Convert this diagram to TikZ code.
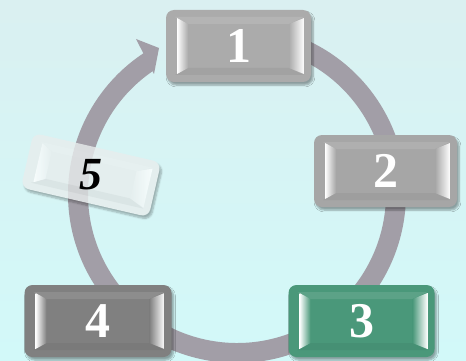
\documentclass[tikz,border=0pt]{standalone}
\usepackage{fontspec}
\setmainfont{Liberation Serif}
\usetikzlibrary{shadows.blur}

\definecolor{bgtop}{HTML}{DAF0F1}
\definecolor{bgbottom}{HTML}{D2F9F9}
\definecolor{ringgray}{HTML}{A29EA7}
\definecolor{capgray}{HTML}{ABABAB}
\definecolor{capgrayb}{HTML}{A6A6A6}
\definecolor{capdark}{HTML}{808080}
\definecolor{capgreen}{HTML}{4A987A}
\definecolor{capwhite}{HTML}{E8EDED}

\tikzset{
  capbase/.style={rounded corners=8pt,
    blur shadow={shadow xshift=2pt, shadow yshift=-3pt, shadow blur steps=6, shadow opacity=35}},
  capnum/.style={text=white, font=\fontsize{50}{50}\selectfont\bfseries, inner sep=0pt},
  capnumdark/.style={text=black, font=\fontsize{46}{46}\selectfont\bfseries\itshape, inner sep=0pt},
  ringband/.style={draw=ringgray, line width=20pt},
}

% #1 nombre, #2 centro, #3 opciones, #4 medio ancho, #5 medio alto, #6 color, #7 estilo, #8 texto
\newcommand{\keycap}[8]{%
  \begin{scope}[shift={#2}, #3]
    \path[capbase, fill=#6] (-#4,-#5) rectangle (#4,#5);
    % bisel superior e inferior
    \fill[#6!90!white] ({-#4+9},{-#5+7}) -- ({#4-7},{-#5+7}) -- ({#4-22},{-#5+14}) -- ({-#4+22},{-#5+14}) -- cycle;
    \fill[#6!95!black] ({-#4+9},{#5-7}) -- ({#4-7},{#5-7}) -- ({#4-22},{#5-14}) -- ({-#4+22},{#5-14}) -- cycle;
    % bisel izquierdo y derecho
    \shade[left color=white, right color=#6] ({-#4+11},{-#5+8}) -- ({-#4+22},{-#5+14}) -- ({-#4+22},{#5-14}) -- ({-#4+11},{#5-8}) -- cycle;
    \shade[left color=#6, right color=white] ({#4-22},{-#5+14}) -- ({#4-7},{-#5+8}) -- ({#4-7},{#5-8}) -- ({#4-22},{#5-14}) -- cycle;
  \end{scope}
  \node[#7] (#1) at #2 {#8};}

\begin{document}
\begin{tikzpicture}[x=1pt, y=-1pt]
  % fondo
  \useasboundingbox (0,0) rectangle (466,361);
  \shade[top color=bgtop, bottom color=bgbottom] (0,0) rectangle (466,361);

  % anillo con flecha
  \draw[ringband] (237,194) ++(-123.5:159) arc (-123.5:-440:159);
  \fill[ringgray] (136,39) -- (159,48) -- (154,74) -- cycle; % punta

  % teclas
  \keycap{k5}{(91,175)}{rotate=-13, opacity=.8, transparency group}{65.5}{28}{capwhite}{capnumdark}{5}
  \keycap{k1}{(238.5,46)}{}{72.5}{36}{capgray}{capnum}{1}
  \keycap{k2}{(385.5,171)}{}{71.5}{36}{capgrayb}{capnum}{2}
  \keycap{k3}{(361.5,321)}{}{73}{36}{capgreen}{capnum}{3}
  \keycap{k4}{(98,321)}{}{73.5}{36}{capdark}{capnum}{4}
\end{tikzpicture}
\end{document}
